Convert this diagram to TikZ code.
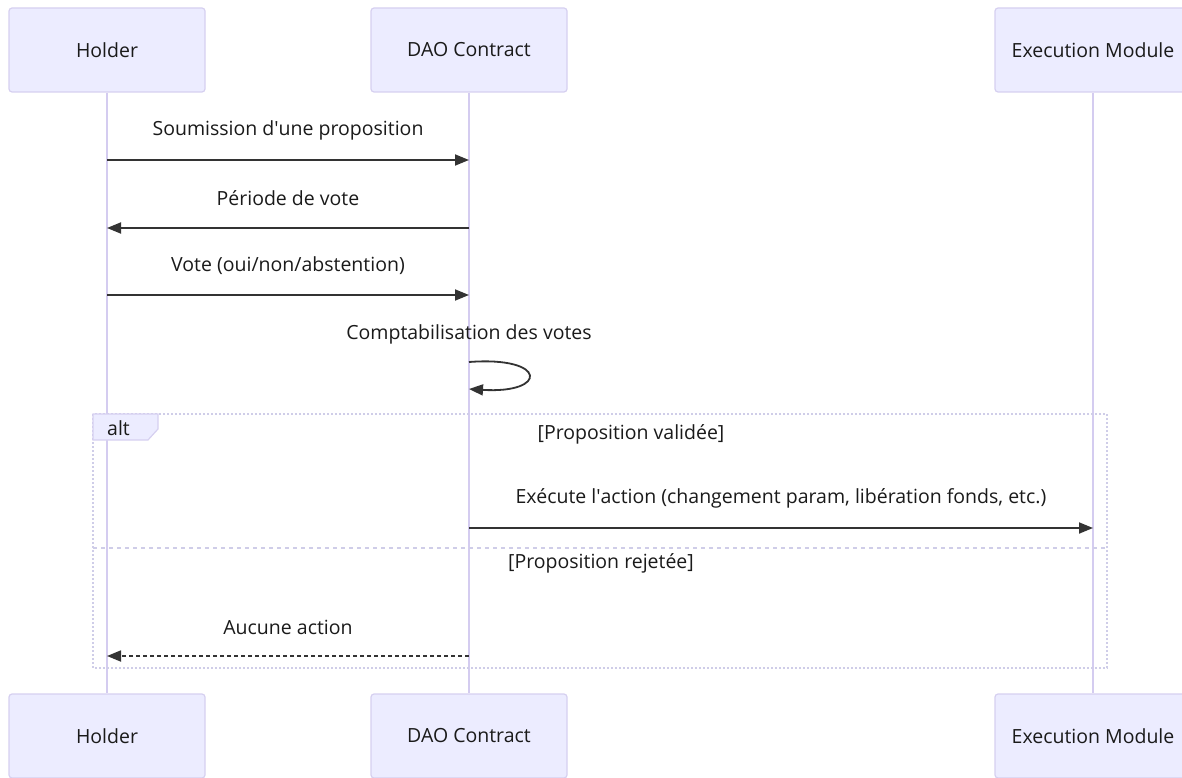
\documentclass[tikz,border=0pt]{standalone}
\usepackage{fontspec}
\setmainfont{Open Sans}
\usetikzlibrary{arrows.meta}

\definecolor{actorfill}{HTML}{ECECFF}
\definecolor{actorline}{HTML}{D6D0F0}
\definecolor{lifeline}{HTML}{D4CCF0}
\definecolor{framecol}{HTML}{CFCDE8}
\definecolor{msgcol}{HTML}{333333}
\definecolor{txtcol}{HTML}{1A1A1A}

\tikzset{
  actor/.style={draw=actorline, line width=1.2pt, fill=actorfill, rounded corners=3pt,
    minimum width=196pt, minimum height=84pt, inner sep=0pt, text=txtcol,
    font=\fontsize{19.5}{22}\selectfont},
  life/.style={draw=lifeline, line width=2pt},
  msg/.style={draw=msgcol, line width=1.8pt, -{Triangle[length=14pt,width=11pt]}},
  reply/.style={msg, dash pattern=on 4pt off 3pt},
  msglabel/.style={text=txtcol, font=\fontsize{19.5}{22}\selectfont, inner sep=0pt},
  framebox/.style={draw=framecol, line width=2pt, dash pattern=on 2pt off 2pt},
  divider/.style={draw=framecol, line width=2pt, dash pattern=on 4pt off 4pt},
  tab/.style={draw=actorline, line width=1.2pt, fill=actorfill}
}

\begin{document}
\begin{tikzpicture}[x=1pt,y=-1pt]
  \useasboundingbox (0,0) rectangle (1182,778);

  % participants (top and bottom)
  \node[actor] (holderT) at (107,50) {Holder};
  \node[actor] (daoT) at (469,50) {DAO Contract};
  \node[actor] (execT) at (1093,50) {Execution Module};
  \node[actor] (holderB) at (107,736) {Holder};
  \node[actor] (daoB) at (469,736) {DAO Contract};
  \node[actor] (execB) at (1093,736) {Execution Module};

  % lifelines
  \draw[life] (holderT.south) -- (holderB.north);
  \draw[life] (daoT.south) -- (daoB.north);
  \draw[life] (execT.south) -- (execB.north);

  % alt frame
  \coordinate (fTL) at (93,414);
  \coordinate (fBR) at (1107,668);
  \draw[framebox] (fTL) rectangle (fBR);
  \draw[tab] (93,414) -- (158,414) -- (158,429) -- (148,440) -- (93,440) -- cycle;
  \node[msglabel, anchor=west] (altlbl) at (107,428) {alt};
  \node[msglabel] (cond1) at (631,434) {[Proposition validée]};
  \coordinate (dL) at (93,548);
  \coordinate (dR) at (1107,548);
  \draw[divider] (dL) -- (dR);
  \node[msglabel] (cond2) at (601,563) {[Proposition rejetée]};

  % message end points on the lifelines
  \coordinate (h1) at (107,160); \coordinate (d1) at (469,160);
  \coordinate (h2) at (107,228); \coordinate (d2) at (469,228);
  \coordinate (h3) at (107,295); \coordinate (d3) at (469,295);
  \coordinate (s1) at (469,362); \coordinate (s2) at (469,389);
  \coordinate (d5) at (469,528); \coordinate (e5) at (1093,528);
  \coordinate (h6) at (107,656); \coordinate (d6) at (469,656);

  % messages
  \node[msglabel] (m1) at (288,130) {Soumission d\textquotesingle une proposition};
  \draw[msg] (h1) -- (d1);
  \node[msglabel] (m2) at (288,198) {Période de vote};
  \draw[msg] (d2) -- (h2);
  \node[msglabel] (m3) at (288,266) {Vote (oui/non/abstention)};
  \draw[msg] (h3) -- (d3);
  \node[msglabel] (m4) at (469,334) {Comptabilisation des votes};
  \draw[msg] (s1) .. controls (548,356) and (548,394) .. (s2);
  \node[msglabel] (m5) at (781,498) {Exécute l\textquotesingle action (changement param, libération fonds, etc.)};
  \draw[msg] (d5) -- (e5);
  \node[msglabel] (m6) at (288,627) {Aucune action};
  \draw[reply] (d6) -- (h6);
\end{tikzpicture}
\end{document}
